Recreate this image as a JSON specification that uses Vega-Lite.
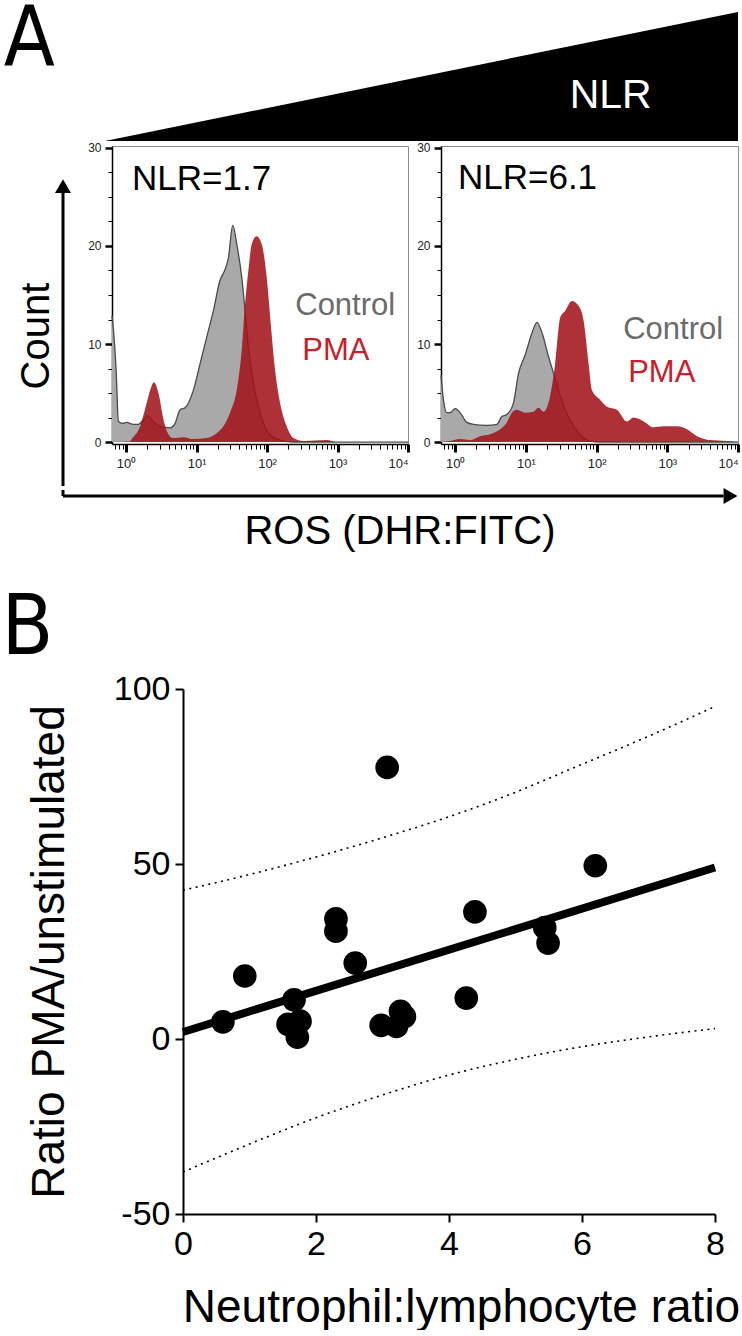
{
  "$schema": "https://vega.github.io/schema/vega-lite/v6.json",
  "padding": 0,
  "background": "white",
  "config": {
    "font": "Liberation Sans",
    "view": {"stroke": null, "fill": "transparent"},
    "axis": {"grid": false, "labelColor": "black", "titleColor": "black", "titleFontWeight": "normal", "domainColor": "black", "tickColor": "black"}
  },
  "datasets": {
    "hist": [
      {"panel": "NLR=1.7", "series": "Control", "log10": -0.2, "count": 12.9},
      {"panel": "NLR=1.7", "series": "Control", "log10": -0.18, "count": 11.5},
      {"panel": "NLR=1.7", "series": "Control", "log10": -0.142, "count": 7.4},
      {"panel": "NLR=1.7", "series": "Control", "log10": -0.109, "count": 2.1},
      {"panel": "NLR=1.7", "series": "Control", "log10": -0.05, "count": 1.9},
      {"panel": "NLR=1.7", "series": "Control", "log10": 0.009, "count": 2.0},
      {"panel": "NLR=1.7", "series": "Control", "log10": 0.1, "count": 1.8},
      {"panel": "NLR=1.7", "series": "Control", "log10": 0.175, "count": 1.8},
      {"panel": "NLR=1.7", "series": "Control", "log10": 0.246, "count": 2.3},
      {"panel": "NLR=1.7", "series": "Control", "log10": 0.303, "count": 2.7},
      {"panel": "NLR=1.7", "series": "Control", "log10": 0.388, "count": 2.1},
      {"panel": "NLR=1.7", "series": "Control", "log10": 0.482, "count": 1.6},
      {"panel": "NLR=1.7", "series": "Control", "log10": 0.624, "count": 1.45},
      {"panel": "NLR=1.7", "series": "Control", "log10": 0.695, "count": 1.9},
      {"panel": "NLR=1.7", "series": "Control", "log10": 0.766, "count": 3.3},
      {"panel": "NLR=1.7", "series": "Control", "log10": 0.837, "count": 3.5},
      {"panel": "NLR=1.7", "series": "Control", "log10": 0.955, "count": 5.3},
      {"panel": "NLR=1.7", "series": "Control", "log10": 1.05, "count": 8.0},
      {"panel": "NLR=1.7", "series": "Control", "log10": 1.144, "count": 10.7},
      {"panel": "NLR=1.7", "series": "Control", "log10": 1.239, "count": 13.4},
      {"panel": "NLR=1.7", "series": "Control", "log10": 1.333, "count": 16.5},
      {"panel": "NLR=1.7", "series": "Control", "log10": 1.404, "count": 17.6},
      {"panel": "NLR=1.7", "series": "Control", "log10": 1.452, "count": 18.8},
      {"panel": "NLR=1.7", "series": "Control", "log10": 1.513, "count": 22.1},
      {"panel": "NLR=1.7", "series": "Control", "log10": 1.57, "count": 20.2},
      {"panel": "NLR=1.7", "series": "Control", "log10": 1.641, "count": 16.8},
      {"panel": "NLR=1.7", "series": "Control", "log10": 1.688, "count": 13.4},
      {"panel": "NLR=1.7", "series": "Control", "log10": 1.735, "count": 9.7},
      {"panel": "NLR=1.7", "series": "Control", "log10": 1.806, "count": 6.0},
      {"panel": "NLR=1.7", "series": "Control", "log10": 1.901, "count": 3.0},
      {"panel": "NLR=1.7", "series": "Control", "log10": 2.019, "count": 0.9},
      {"panel": "NLR=1.7", "series": "Control", "log10": 2.137, "count": 0.3},
      {"panel": "NLR=1.7", "series": "Control", "log10": 2.374, "count": 0.0},
      {"panel": "NLR=1.7", "series": "Control", "log10": 4.0, "count": 0.0},
      {"panel": "NLR=1.7", "series": "PMA", "log10": -0.2, "count": 0.0},
      {"panel": "NLR=1.7", "series": "PMA", "log10": 0.05, "count": 0.05},
      {"panel": "NLR=1.7", "series": "PMA", "log10": 0.08, "count": 0.3},
      {"panel": "NLR=1.7", "series": "PMA", "log10": 0.199, "count": 1.6},
      {"panel": "NLR=1.7", "series": "PMA", "log10": 0.293, "count": 4.0},
      {"panel": "NLR=1.7", "series": "PMA", "log10": 0.35, "count": 5.5},
      {"panel": "NLR=1.7", "series": "PMA", "log10": 0.397, "count": 6.1},
      {"panel": "NLR=1.7", "series": "PMA", "log10": 0.459, "count": 5.0},
      {"panel": "NLR=1.7", "series": "PMA", "log10": 0.53, "count": 2.3},
      {"panel": "NLR=1.7", "series": "PMA", "log10": 0.6, "count": 0.8},
      {"panel": "NLR=1.7", "series": "PMA", "log10": 0.671, "count": 0.4},
      {"panel": "NLR=1.7", "series": "PMA", "log10": 0.813, "count": 0.5},
      {"panel": "NLR=1.7", "series": "PMA", "log10": 0.955, "count": 0.3},
      {"panel": "NLR=1.7", "series": "PMA", "log10": 1.144, "count": 0.4},
      {"panel": "NLR=1.7", "series": "PMA", "log10": 1.286, "count": 0.9},
      {"panel": "NLR=1.7", "series": "PMA", "log10": 1.381, "count": 1.6},
      {"panel": "NLR=1.7", "series": "PMA", "log10": 1.475, "count": 3.0},
      {"panel": "NLR=1.7", "series": "PMA", "log10": 1.57, "count": 5.3},
      {"panel": "NLR=1.7", "series": "PMA", "log10": 1.641, "count": 9.4},
      {"panel": "NLR=1.7", "series": "PMA", "log10": 1.688, "count": 14.1},
      {"panel": "NLR=1.7", "series": "PMA", "log10": 1.735, "count": 17.5},
      {"panel": "NLR=1.7", "series": "PMA", "log10": 1.783, "count": 20.2},
      {"panel": "NLR=1.7", "series": "PMA", "log10": 1.853, "count": 21.0},
      {"panel": "NLR=1.7", "series": "PMA", "log10": 1.924, "count": 20.2},
      {"panel": "NLR=1.7", "series": "PMA", "log10": 1.995, "count": 16.8},
      {"panel": "NLR=1.7", "series": "PMA", "log10": 2.052, "count": 12.1},
      {"panel": "NLR=1.7", "series": "PMA", "log10": 2.113, "count": 7.4},
      {"panel": "NLR=1.7", "series": "PMA", "log10": 2.184, "count": 4.0},
      {"panel": "NLR=1.7", "series": "PMA", "log10": 2.279, "count": 1.6},
      {"panel": "NLR=1.7", "series": "PMA", "log10": 2.374, "count": 0.4},
      {"panel": "NLR=1.7", "series": "PMA", "log10": 2.515, "count": 0.1},
      {"panel": "NLR=1.7", "series": "PMA", "log10": 2.846, "count": 0.2},
      {"panel": "NLR=1.7", "series": "PMA", "log10": 2.988, "count": 0.0},
      {"panel": "NLR=1.7", "series": "PMA", "log10": 4.0, "count": 0.0},
      {"panel": "NLR=6.1", "series": "Control", "log10": -0.2, "count": 6.8},
      {"panel": "NLR=6.1", "series": "Control", "log10": -0.165, "count": 4.3},
      {"panel": "NLR=6.1", "series": "Control", "log10": -0.118, "count": 3.0},
      {"panel": "NLR=6.1", "series": "Control", "log10": -0.071, "count": 3.0},
      {"panel": "NLR=6.1", "series": "Control", "log10": 0.0, "count": 3.4},
      {"panel": "NLR=6.1", "series": "Control", "log10": 0.071, "count": 3.0},
      {"panel": "NLR=6.1", "series": "Control", "log10": 0.165, "count": 2.0},
      {"panel": "NLR=6.1", "series": "Control", "log10": 0.259, "count": 1.8},
      {"panel": "NLR=6.1", "series": "Control", "log10": 0.448, "count": 1.7},
      {"panel": "NLR=6.1", "series": "Control", "log10": 0.59, "count": 1.8},
      {"panel": "NLR=6.1", "series": "Control", "log10": 0.66, "count": 2.6},
      {"panel": "NLR=6.1", "series": "Control", "log10": 0.731, "count": 2.8},
      {"panel": "NLR=6.1", "series": "Control", "log10": 0.825, "count": 4.0},
      {"panel": "NLR=6.1", "series": "Control", "log10": 0.896, "count": 7.0},
      {"panel": "NLR=6.1", "series": "Control", "log10": 0.991, "count": 8.9},
      {"panel": "NLR=6.1", "series": "Control", "log10": 1.085, "count": 11.1},
      {"panel": "NLR=6.1", "series": "Control", "log10": 1.156, "count": 12.2},
      {"panel": "NLR=6.1", "series": "Control", "log10": 1.226, "count": 11.2},
      {"panel": "NLR=6.1", "series": "Control", "log10": 1.321, "count": 8.7},
      {"panel": "NLR=6.1", "series": "Control", "log10": 1.392, "count": 7.0},
      {"panel": "NLR=6.1", "series": "Control", "log10": 1.462, "count": 5.3},
      {"panel": "NLR=6.1", "series": "Control", "log10": 1.557, "count": 3.3},
      {"panel": "NLR=6.1", "series": "Control", "log10": 1.675, "count": 1.6},
      {"panel": "NLR=6.1", "series": "Control", "log10": 1.792, "count": 0.6},
      {"panel": "NLR=6.1", "series": "Control", "log10": 1.91, "count": 0.1},
      {"panel": "NLR=6.1", "series": "Control", "log10": 2.052, "count": 0.0},
      {"panel": "NLR=6.1", "series": "Control", "log10": 4.0, "count": 0.0},
      {"panel": "NLR=6.1", "series": "PMA", "log10": -0.2, "count": 0.0},
      {"panel": "NLR=6.1", "series": "PMA", "log10": -0.071, "count": 0.1},
      {"panel": "NLR=6.1", "series": "PMA", "log10": 0.071, "count": 0.3},
      {"panel": "NLR=6.1", "series": "PMA", "log10": 0.212, "count": 0.2},
      {"panel": "NLR=6.1", "series": "PMA", "log10": 0.354, "count": 0.6},
      {"panel": "NLR=6.1", "series": "PMA", "log10": 0.495, "count": 0.8},
      {"panel": "NLR=6.1", "series": "PMA", "log10": 0.637, "count": 1.3},
      {"panel": "NLR=6.1", "series": "PMA", "log10": 0.731, "count": 2.0},
      {"panel": "NLR=6.1", "series": "PMA", "log10": 0.802, "count": 3.0},
      {"panel": "NLR=6.1", "series": "PMA", "log10": 0.873, "count": 3.3},
      {"panel": "NLR=6.1", "series": "PMA", "log10": 0.991, "count": 3.0},
      {"panel": "NLR=6.1", "series": "PMA", "log10": 1.108, "count": 3.1},
      {"panel": "NLR=6.1", "series": "PMA", "log10": 1.179, "count": 3.5},
      {"panel": "NLR=6.1", "series": "PMA", "log10": 1.25, "count": 3.1},
      {"panel": "NLR=6.1", "series": "PMA", "log10": 1.344, "count": 4.7},
      {"panel": "NLR=6.1", "series": "PMA", "log10": 1.415, "count": 8.0},
      {"panel": "NLR=6.1", "series": "PMA", "log10": 1.486, "count": 12.7},
      {"panel": "NLR=6.1", "series": "PMA", "log10": 1.557, "count": 13.4},
      {"panel": "NLR=6.1", "series": "PMA", "log10": 1.651, "count": 14.4},
      {"panel": "NLR=6.1", "series": "PMA", "log10": 1.745, "count": 13.9},
      {"panel": "NLR=6.1", "series": "PMA", "log10": 1.816, "count": 12.4},
      {"panel": "NLR=6.1", "series": "PMA", "log10": 1.887, "count": 8.0},
      {"panel": "NLR=6.1", "series": "PMA", "log10": 1.934, "count": 5.3},
      {"panel": "NLR=6.1", "series": "PMA", "log10": 2.052, "count": 4.3},
      {"panel": "NLR=6.1", "series": "PMA", "log10": 2.146, "count": 3.6},
      {"panel": "NLR=6.1", "series": "PMA", "log10": 2.288, "count": 3.3},
      {"panel": "NLR=6.1", "series": "PMA", "log10": 2.429, "count": 2.1},
      {"panel": "NLR=6.1", "series": "PMA", "log10": 2.524, "count": 2.5},
      {"panel": "NLR=6.1", "series": "PMA", "log10": 2.665, "count": 2.1},
      {"panel": "NLR=6.1", "series": "PMA", "log10": 2.807, "count": 1.5},
      {"panel": "NLR=6.1", "series": "PMA", "log10": 2.948, "count": 1.6},
      {"panel": "NLR=6.1", "series": "PMA", "log10": 3.137, "count": 1.6},
      {"panel": "NLR=6.1", "series": "PMA", "log10": 3.278, "count": 1.3},
      {"panel": "NLR=6.1", "series": "PMA", "log10": 3.42, "count": 0.6},
      {"panel": "NLR=6.1", "series": "PMA", "log10": 3.608, "count": 0.2},
      {"panel": "NLR=6.1", "series": "PMA", "log10": 3.844, "count": 0.1},
      {"panel": "NLR=6.1", "series": "PMA", "log10": 4.0, "count": 0.0}
    ],
    "histLabels": [
      {"panel": "NLR=1.7", "kind": "title", "text": "NLR=1.7", "log10": 0.085, "count": 25.7},
      {"panel": "NLR=1.7", "kind": "Control", "text": "Control", "log10": 2.4, "count": 13.0},
      {"panel": "NLR=1.7", "kind": "PMA", "text": "PMA", "log10": 2.5, "count": 8.4},
      {"panel": "NLR=6.1", "kind": "title", "text": "NLR=6.1", "log10": 0.04, "count": 25.8},
      {"panel": "NLR=6.1", "kind": "Control", "text": "Control", "log10": 2.376, "count": 10.5},
      {"panel": "NLR=6.1", "kind": "PMA", "text": "PMA", "log10": 2.447, "count": 6.1}
    ],
    "scatter": [
      {"nlr": 0.6, "ratio": 4.9},
      {"nlr": 0.93, "ratio": 18.0},
      {"nlr": 1.67, "ratio": 11.2},
      {"nlr": 1.58, "ratio": 4.2},
      {"nlr": 1.76, "ratio": 5.1},
      {"nlr": 1.72, "ratio": 0.5},
      {"nlr": 2.59, "ratio": 21.7},
      {"nlr": 2.3, "ratio": 34.3},
      {"nlr": 2.3, "ratio": 30.8},
      {"nlr": 3.07, "ratio": 77.6},
      {"nlr": 4.39, "ratio": 36.3},
      {"nlr": 5.44, "ratio": 31.8},
      {"nlr": 5.49, "ratio": 27.4},
      {"nlr": 6.2, "ratio": 49.5},
      {"nlr": 2.98, "ratio": 3.9},
      {"nlr": 3.21, "ratio": 3.6},
      {"nlr": 3.27, "ratio": 7.9},
      {"nlr": 3.33, "ratio": 6.4},
      {"nlr": 4.26, "ratio": 11.7}
    ],
    "fit": [
      {"nlr": 0, "ratio": 2.0},
      {"nlr": 8, "ratio": 49.0}
    ],
    "bands": [
      {"nlr": 0, "upper": 42.5, "lower": -38.0},
      {"nlr": 1, "upper": 47.0, "lower": -30.0},
      {"nlr": 2, "upper": 52.0, "lower": -22.5},
      {"nlr": 3, "upper": 57.5, "lower": -16.0},
      {"nlr": 4, "upper": 63.5, "lower": -10.3},
      {"nlr": 5, "upper": 70.5, "lower": -5.8},
      {"nlr": 6, "upper": 78.5, "lower": -2.2},
      {"nlr": 7, "upper": 86.5, "lower": 0.6},
      {"nlr": 8, "upper": 95.0, "lower": 3.0}
    ],
    "header": [
      {"item": "triangle", "pos": 0.1415, "level": 0.0, "base": 0.0},
      {"item": "triangle", "pos": 0.9946, "level": 0.915, "base": 0.0}
    ],
    "headerText": [
      {"item": "panel", "text": "A", "pos": 0.005, "level": 1.0},
      {"item": "nlr", "text": "NLR", "pos": 0.823, "level": 0.234}
    ],
    "countAxis": [
      {"part": "shaft", "pos": 0.5625, "from": 0.0, "to": 0.874},
      {"part": "head", "pos": 0.5625, "from": 0.882, "to": 0.882}
    ],
    "rosAxis": [
      {"part": "hshaft", "x1": 0.0849, "x2": 0.975, "y1": 0.967, "y2": 0.967},
      {"part": "vshaft", "x1": 0.0849, "x2": 0.0849, "y1": 0.967, "y2": 1.0}
    ]
  },
  "vconcat": [
    {
      "width": 742,
      "height": 141,
      "layer": [
        {
          "data": {"name": "header"},
          "mark": {"type": "area", "color": "black", "opacity": 1},
          "encoding": {
            "x": {"field": "pos", "type": "quantitative", "scale": {"domain": [0, 1], "nice": false, "zero": false}, "axis": null},
            "y": {"field": "level", "type": "quantitative", "scale": {"domain": [0, 1], "nice": false, "zero": false}, "axis": null},
            "y2": {"field": "base"}
          }
        },
        {
          "data": {"name": "headerText"},
          "transform": [{"filter": "datum.item == 'panel'"}],
          "mark": {"type": "text", "align": "left", "baseline": "top", "fontSize": 83, "font": "Liberation Sans Narrow, DejaVu Sans Condensed, Liberation Sans, sans-serif", "color": "black"},
          "encoding": {
            "x": {"field": "pos", "type": "quantitative", "scale": {"domain": [0, 1]}, "axis": null},
            "y": {"field": "level", "type": "quantitative", "scale": {"domain": [0, 1]}, "axis": null},
            "text": {"field": "text"}
          }
        },
        {
          "data": {"name": "headerText"},
          "transform": [{"filter": "datum.item == 'nlr'"}],
          "mark": {"type": "text", "align": "center", "baseline": "alphabetic", "fontSize": 41, "color": "white"},
          "encoding": {
            "x": {"field": "pos", "type": "quantitative", "scale": {"domain": [0, 1]}, "axis": null},
            "y": {"field": "level", "type": "quantitative", "scale": {"domain": [0, 1]}, "axis": null},
            "text": {"field": "text"}
          }
        }
      ]
    },
    {
      "hconcat": [
        {
          "width": 112,
          "height": 340,
          "data": {"name": "countAxis"},
          "layer": [
            {
              "transform": [{"filter": "datum.part == 'shaft'"}],
              "mark": {"type": "rule", "color": "black", "strokeWidth": 3},
              "encoding": {
                "x": {"field": "pos", "type": "quantitative", "scale": {"domain": [0, 1], "nice": false, "zero": false}, "axis": null},
                "y": {"field": "from", "type": "quantitative", "scale": {"domain": [0, 1], "nice": false, "zero": false}, "axis": null},
                "y2": {"field": "to"}
              }
            },
            {
              "transform": [{"filter": "datum.part == 'head'"}],
              "mark": {"type": "point", "shape": "triangle-up", "filled": true, "color": "black", "opacity": 1, "size": 256},
              "encoding": {
                "x": {"field": "pos", "type": "quantitative", "scale": {"domain": [0, 1]}, "axis": null},
                "y": {"field": "from", "type": "quantitative", "scale": {"domain": [0, 1]}, "axis": null}
              }
            },
            {
              "data": {"values": [{"label": "Count", "pos": 0.33, "level": 0.441}]},
              "mark": {"type": "text", "angle": 270, "align": "center", "baseline": "middle", "fontSize": 40, "color": "black"},
              "encoding": {
                "x": {"field": "pos", "type": "quantitative", "scale": {"domain": [0, 1]}, "axis": null},
                "y": {"field": "level", "type": "quantitative", "scale": {"domain": [0, 1]}, "axis": null},
                "text": {"field": "label"}
              }
            }
          ]
        },
        {
          "hconcat": [
            {
              "width": 296,
              "height": 298,
              "view": {"stroke": "#8c8c8c", "strokeWidth": 1},
              "encoding": {
                "x": {
                  "field": "log10", "type": "quantitative",
                  "scale": {"domain": [-0.2, 4], "nice": false, "zero": false},
                  "axis": {
                    "title": null,
                    "values": [-0.155, -0.097, -0.046, 0, 0.301, 0.477, 0.602, 0.699, 0.778, 0.845, 0.903, 0.954, 1, 1.301, 1.477, 1.602, 1.699, 1.778, 1.845, 1.903, 1.954, 2, 2.301, 2.477, 2.602, 2.699, 2.778, 2.845, 2.903, 2.954, 3, 3.301, 3.477, 3.602, 3.699, 3.778, 3.845, 3.903, 3.954, 4],
                    "labelExpr": "abs(datum.value - round(datum.value)) < 0.001 ? '10' + ['⁰','¹','²','³','⁴'][round(datum.value)] : ''",
                    "labelFontSize": 13, "labelColor": "#222222", "labelPadding": 5, "labelFlush": false, "labelOverlap": false,
                    "labelAlign": {"condition": {"test": "datum.value == 4", "value": "right"}, "value": "center"},
                    "domainWidth": 1.5,
                    "tickSize": {"condition": {"test": "abs(datum.value - round(datum.value)) < 0.001", "value": 8}, "value": 5},
                    "tickWidth": {"condition": {"test": "abs(datum.value - round(datum.value)) < 0.001", "value": 3}, "value": 1}
                  }
                },
                "y": {
                  "field": "count", "type": "quantitative",
                  "scale": {"domain": [-0.2, 30.2], "nice": false, "zero": false},
                  "axis": {
                    "title": null,
                    "values": [0, 2.5, 5, 7.5, 10, 12.5, 15, 17.5, 20, 22.5, 25, 27.5, 30],
                    "labelExpr": "datum.value % 10 == 0 ? datum.label : ''",
                    "labelFontSize": 12, "labelColor": "#222222", "labelPadding": 4, "labelOverlap": false,
                    "domainWidth": 1.5,
                    "tickSize": {"condition": {"test": "datum.value % 10 == 0", "value": 7}, "value": 4},
                    "tickWidth": {"condition": {"test": "datum.value % 10 == 0", "value": 2.5}, "value": 1}
                  }
                }
              },
              "layer": [
                {"data": {"name": "hist"}, "transform": [{"filter": "datum.panel == 'NLR=1.7' && datum.series == 'Control'"}], "mark": {"type": "area", "color": "#a9a9a9", "opacity": 1, "interpolate": "monotone"}},
                {"data": {"name": "hist"}, "transform": [{"filter": "datum.panel == 'NLR=1.7' && datum.series == 'Control'"}], "mark": {"type": "line", "color": "#4a4a4a", "strokeWidth": 1.3, "interpolate": "monotone"}},
                {"data": {"name": "hist"}, "transform": [{"filter": "datum.panel == 'NLR=1.7' && datum.series == 'PMA'"}], "mark": {"type": "area", "color": "#a3121a", "opacity": 0.87, "interpolate": "monotone"}},
                {"data": {"name": "histLabels"}, "transform": [{"filter": "datum.panel == 'NLR=1.7' && datum.kind == 'title'"}], "mark": {"type": "text", "align": "left", "baseline": "alphabetic", "fontSize": 35, "color": "black"}, "encoding": {"text": {"field": "text"}}},
                {"data": {"name": "histLabels"}, "transform": [{"filter": "datum.panel == 'NLR=1.7' && datum.kind == 'Control'"}], "mark": {"type": "text", "align": "left", "baseline": "alphabetic", "fontSize": 31, "color": "#6b6b6b"}, "encoding": {"text": {"field": "text"}}},
                {"data": {"name": "histLabels"}, "transform": [{"filter": "datum.panel == 'NLR=1.7' && datum.kind == 'PMA'"}], "mark": {"type": "text", "align": "left", "baseline": "alphabetic", "fontSize": 31, "color": "#c8202a"}, "encoding": {"text": {"field": "text"}}}
              ]
            },
            {
              "width": 297,
              "height": 298,
              "view": {"stroke": "#8c8c8c", "strokeWidth": 1},
              "encoding": {
                "x": {
                  "field": "log10", "type": "quantitative",
                  "scale": {"domain": [-0.2, 4], "nice": false, "zero": false},
                  "axis": {
                    "title": null,
                    "values": [-0.155, -0.097, -0.046, 0, 0.301, 0.477, 0.602, 0.699, 0.778, 0.845, 0.903, 0.954, 1, 1.301, 1.477, 1.602, 1.699, 1.778, 1.845, 1.903, 1.954, 2, 2.301, 2.477, 2.602, 2.699, 2.778, 2.845, 2.903, 2.954, 3, 3.301, 3.477, 3.602, 3.699, 3.778, 3.845, 3.903, 3.954, 4],
                    "labelExpr": "abs(datum.value - round(datum.value)) < 0.001 ? '10' + ['⁰','¹','²','³','⁴'][round(datum.value)] : ''",
                    "labelFontSize": 13, "labelColor": "#222222", "labelPadding": 5, "labelFlush": false, "labelOverlap": false,
                    "labelAlign": {"condition": {"test": "datum.value == 4", "value": "right"}, "value": "center"},
                    "domainWidth": 1.5,
                    "tickSize": {"condition": {"test": "abs(datum.value - round(datum.value)) < 0.001", "value": 8}, "value": 5},
                    "tickWidth": {"condition": {"test": "abs(datum.value - round(datum.value)) < 0.001", "value": 3}, "value": 1}
                  }
                },
                "y": {
                  "field": "count", "type": "quantitative",
                  "scale": {"domain": [-0.2, 30.2], "nice": false, "zero": false},
                  "axis": {
                    "title": null,
                    "values": [0, 2.5, 5, 7.5, 10, 12.5, 15, 17.5, 20, 22.5, 25, 27.5, 30],
                    "labelExpr": "datum.value % 10 == 0 ? datum.label : ''",
                    "labelFontSize": 12, "labelColor": "#222222", "labelPadding": 4, "labelOverlap": false,
                    "domainWidth": 1.5,
                    "tickSize": {"condition": {"test": "datum.value % 10 == 0", "value": 7}, "value": 4},
                    "tickWidth": {"condition": {"test": "datum.value % 10 == 0", "value": 2.5}, "value": 1}
                  }
                }
              },
              "layer": [
                {"data": {"name": "hist"}, "transform": [{"filter": "datum.panel == 'NLR=6.1' && datum.series == 'Control'"}], "mark": {"type": "area", "color": "#a9a9a9", "opacity": 1, "interpolate": "monotone"}},
                {"data": {"name": "hist"}, "transform": [{"filter": "datum.panel == 'NLR=6.1' && datum.series == 'Control'"}], "mark": {"type": "line", "color": "#4a4a4a", "strokeWidth": 1.3, "interpolate": "monotone"}},
                {"data": {"name": "hist"}, "transform": [{"filter": "datum.panel == 'NLR=6.1' && datum.series == 'PMA'"}], "mark": {"type": "area", "color": "#a3121a", "opacity": 0.87, "interpolate": "monotone"}},
                {"data": {"name": "histLabels"}, "transform": [{"filter": "datum.panel == 'NLR=6.1' && datum.kind == 'title'"}], "mark": {"type": "text", "align": "left", "baseline": "alphabetic", "fontSize": 35, "color": "black"}, "encoding": {"text": {"field": "text"}}},
                {"data": {"name": "histLabels"}, "transform": [{"filter": "datum.panel == 'NLR=6.1' && datum.kind == 'Control'"}], "mark": {"type": "text", "align": "left", "baseline": "alphabetic", "fontSize": 31, "color": "#6b6b6b"}, "encoding": {"text": {"field": "text"}}},
                {"data": {"name": "histLabels"}, "transform": [{"filter": "datum.panel == 'NLR=6.1' && datum.kind == 'PMA'"}], "mark": {"type": "text", "align": "left", "baseline": "alphabetic", "fontSize": 31, "color": "#c8202a"}, "encoding": {"text": {"field": "text"}}}
              ]
            }
          ],
          "spacing": 33,
          "bounds": "flush"
        }
      ],
      "spacing": 0,
      "bounds": "flush"
    },
    {
      "width": 742,
      "height": 182,
      "layer": [
        {
          "data": {"name": "rosAxis"},
          "mark": {"type": "rule", "color": "black", "strokeWidth": 3},
          "encoding": {
            "x": {"field": "x1", "type": "quantitative", "scale": {"domain": [0, 1], "nice": false, "zero": false}, "axis": null},
            "x2": {"field": "x2"},
            "y": {"field": "y1", "type": "quantitative", "scale": {"domain": [0, 1], "nice": false, "zero": false}, "axis": null},
            "y2": {"field": "y2"}
          }
        },
        {
          "data": {"values": [{"part": "head", "x1": 0.9845, "y1": 0.967}]},
          "mark": {"type": "point", "shape": "triangle-right", "filled": true, "color": "black", "opacity": 1, "size": 256},
          "encoding": {
            "x": {"field": "x1", "type": "quantitative", "scale": {"domain": [0, 1]}, "axis": null},
            "y": {"field": "y1", "type": "quantitative", "scale": {"domain": [0, 1]}, "axis": null}
          }
        },
        {
          "data": {"values": [{"label": "ROS (DHR:FITC)", "x1": 0.539, "y1": 0.703}]},
          "mark": {"type": "text", "align": "center", "baseline": "alphabetic", "fontSize": 40, "color": "black"},
          "encoding": {
            "x": {"field": "x1", "type": "quantitative", "scale": {"domain": [0, 1]}, "axis": null},
            "y": {"field": "y1", "type": "quantitative", "scale": {"domain": [0, 1]}, "axis": null},
            "text": {"field": "label"}
          }
        },
        {
          "data": {"values": [{"label": "B", "x1": 0.002, "y1": 0.099}]},
          "mark": {"type": "text", "align": "left", "baseline": "alphabetic", "fontSize": 84, "font": "Liberation Sans Narrow, DejaVu Sans Condensed, Liberation Sans, sans-serif", "color": "black"},
          "encoding": {
            "x": {"field": "x1", "type": "quantitative", "scale": {"domain": [0, 1]}, "axis": null},
            "y": {"field": "y1", "type": "quantitative", "scale": {"domain": [0, 1]}, "axis": null},
            "text": {"field": "label"}
          }
        }
      ]
    },
    {
      "hconcat": [
        {
          "width": 183,
          "height": 525,
          "data": {"values": [{"blank": 0}]},
          "mark": {"type": "point", "opacity": 0},
          "encoding": {}
        },
        {
          "width": 532,
          "height": 525,
          "encoding": {
            "x": {
              "field": "nlr", "type": "quantitative",
              "scale": {"domain": [0, 8], "nice": false, "zero": false},
              "axis": {"title": "Neutrophil:lymphocyte ratio", "values": [0, 2, 4, 6, 8], "labelFontSize": 34, "labelPadding": 5, "titleFontSize": 46, "titlePadding": 24, "titleX": 278, "domainWidth": 2, "tickWidth": 2, "tickSize": 8, "labelFlush": false}
            }
          },
          "layer": [
            {
              "data": {"name": "bands"},
              "mark": {"type": "line", "color": "black", "strokeWidth": 1.6, "strokeDash": [2, 4.5], "interpolate": "monotone"},
              "encoding": {
                "y": {"field": "upper", "type": "quantitative", "scale": {"domain": [-50, 100], "nice": false, "zero": false},
                  "axis": {"title": "Ratio PMA/unstimulated", "values": [-50, 0, 50, 100], "labelExpr": "datum.value < 0 ? '-' + abs(datum.value) : '' + datum.value", "labelFontSize": 34, "labelPadding": 5, "titleFontSize": 46, "titlePadding": 40, "domainWidth": 2, "tickWidth": 2, "tickSize": 8}}
              }
            },
            {
              "data": {"name": "bands"},
              "mark": {"type": "line", "color": "black", "strokeWidth": 1.6, "strokeDash": [2, 4.5], "interpolate": "monotone"},
              "encoding": {"y": {"field": "lower", "type": "quantitative"}}
            },
            {
              "data": {"name": "fit"},
              "mark": {"type": "line", "color": "black", "strokeWidth": 8, "strokeCap": "butt"},
              "encoding": {"y": {"field": "ratio", "type": "quantitative"}}
            },
            {
              "data": {"name": "scatter"},
              "mark": {"type": "circle", "color": "black", "opacity": 1, "size": 560},
              "encoding": {"y": {"field": "ratio", "type": "quantitative"}}
            }
          ]
        }
      ],
      "spacing": 0,
      "bounds": "flush"
    }
  ],
  "spacing": 0
}
